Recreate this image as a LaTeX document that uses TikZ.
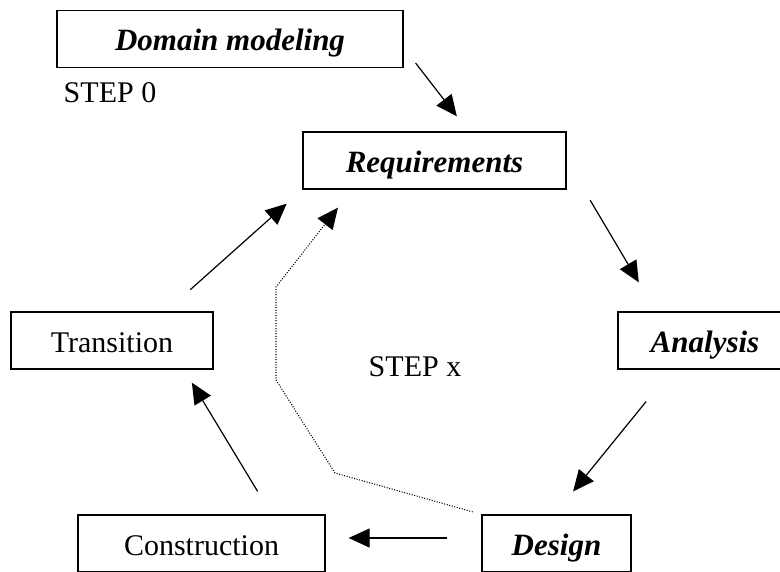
\documentclass[tikz,border=0pt]{standalone}
\usepackage{fontspec}
\setmainfont{Liberation Serif}
\usetikzlibrary{arrows.meta}
\tikzset{
  phasebox/.style = {rectangle, draw, line width=1.3pt, inner sep=0pt,
                     minimum height=57pt, text height=25pt, text depth=2pt,
                     font=\fontsize{30}{36}\selectfont},
  phaseit/.style = {phasebox, font=\fontsize{31}{36}\selectfont\bfseries\itshape},
  steplabel/.style = {font=\fontsize{30}{36}\selectfont},
  flowarrow/.style = {-{Triangle[length=21pt,width=19pt]}, line width=1.2pt},
  backarrow/.style = {flowarrow, line width=1.1pt, dash pattern=on 1pt off 1.6pt}
}

\begin{document}
\begin{tikzpicture}[x=1pt, y=-1pt]
\clip (0,0) rectangle (780,571);

\node[phaseit, minimum width=346pt] (dom) at (230,39) {Domain modeling};
\node[steplabel] (step0) at (110,93) {STEP 0};
\node[phaseit, minimum width=263pt] (req) at (434.5,160.5) {Requirements};
\node[phaseit, minimum width=174pt] (ana) at (705,340.5) {Analysis};
\node[phaseit, minimum width=149pt] (des) at (556.5,543.5) {Design};
\node[phasebox, minimum width=247pt] (con) at (201.5,543.5) {Construction};
\node[phasebox, minimum width=202pt] (tra) at (112,340.5) {Transition};
\node[steplabel] (stepx) at (415,367) {STEP x};

% the cycle
\draw[flowarrow, shorten <=19.5pt, shorten >=19pt]
  ([yshift=-8.6pt]dom.east) -- ([xshift=34pt]req.north);
\draw[flowarrow, shorten <=46pt, shorten >=33.7pt]
  (req.east) -- ([xshift=-49pt]ana.north);
\draw[flowarrow, shorten <=41pt, shorten >=29.5pt]
  ([xshift=-33pt]ana.south) -- ([xshift=-2pt]des.north);
\draw[flowarrow, shorten <=34pt, shorten >=23pt]
  ([yshift=5.5pt]des.west) -- ([yshift=5.5pt]con.east);
\draw[flowarrow, shorten <=26.8pt, shorten >=15.2pt]
  ([xshift=70pt]con.north) -- ([xshift=72pt]tra.south);
\draw[flowarrow, shorten <=32.5pt, shorten >=21pt]
  ([xshift=54pt]tra.north) -- (req.south west);

% way back
\draw[backarrow, shorten <=9pt, shorten >=22.8pt]
  (des.north west) -- (335,473) -- (276,380) -- (276,287)
  -- ([xshift=-82.5pt]req.south);
\end{tikzpicture}
\end{document}
